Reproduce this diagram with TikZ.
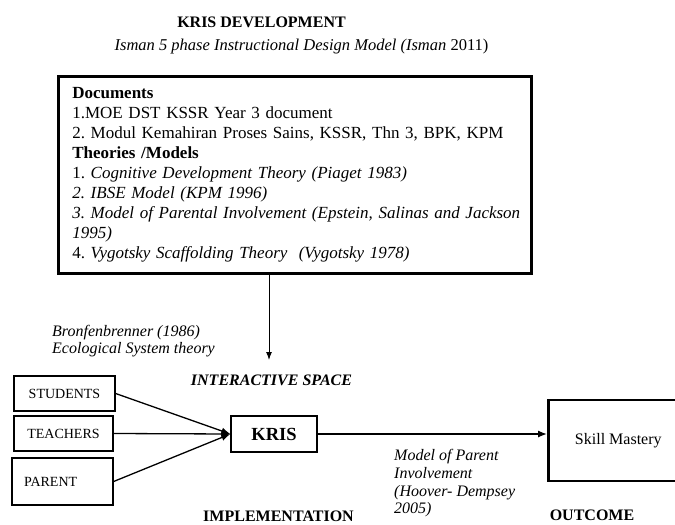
\documentclass[tikz,border=0pt]{standalone}
\usepackage{fontspec}
\setmainfont{Liberation Serif}
\usetikzlibrary{arrows.meta,positioning}
\frenchspacing

\tikzset{
	heavybox/.style={draw, line width=2.6pt, inner ysep=0pt},
	agentbox/.style={draw, line width=1.3pt, inner sep=0pt, minimum height=35pt, font=\fontsize{14}{16}\selectfont},
	feed/.style={line width=1.3pt, -{Latex[length=9pt,width=7pt]}},
	note/.style={inner sep=0pt, align=left, font=\fontsize{16}{17.7}\selectfont\itshape},
	stage/.style={inner sep=0pt, font=\fontsize{16}{18}\selectfont\bfseries}
}

\begin{document}
\begin{tikzpicture}[x=1pt, y=-1pt]
			%%%%% START %%%%%
			\useasboundingbox (0, 0) rectangle (675, 525);
			
			\node[stage] (devtitle) at (261.5, 22) {KRIS DEVELOPMENT};
			\node[inner sep=0pt, font=\fontsize{16.5}{18}\selectfont] (isman) at (301.5, 47) {\textit{Isman 5 phase Instructional Design Model (Isman} 2011)};
			
			\node[heavybox, anchor=north west, minimum width=473pt, minimum height=197pt, inner xsep=14pt, text width=445pt, align=left, font=\fontsize{17}{20}\selectfont] (docs) at (57, 75) {%
				\textbf{Documents}\\
				1.MOE DST KSSR Year 3 document\\
				2. Modul Kemahiran Proses Sains, KSSR, Thn 3, BPK, KPM\\
				\textbf{Theories /Models}\\
				1. \textit{Cognitive Development Theory (Piaget 1983)}\\
				\textit{2. IBSE Model (KPM 1996)}\\
				\mbox{\textit{3. Model of Parental Involvement (Epstein, Salinas and Jackson}}\\
				\textit{1995)}\\
				4. \textit{Vygotsky Scaffolding Theory\ \ (Vygotsky 1978)}};
			
			\coordinate (space) at (269, 360);
			\draw[line width=1pt, -{Latex[length=8pt,width=6pt]}] (space |- docs.south) -- (space);
			
			\node[note, anchor=west] (bronf) at (52, 341) {Bronfenbrenner (1986)\\Ecological System theory};
			\node[stage, font=\fontsize{16}{18}\selectfont\bfseries\itshape] (ispace) at (271.5, 380) {INTERACTIVE SPACE};
			
			\node[agentbox, minimum width=101pt] (stud) at (64.5, 393.5) {STUDENTS};
			\node[agentbox, minimum width=99pt] (teach) at (63.5, 433.5) {TEACHERS};
			\node[agentbox, minimum height=47pt, inner xsep=12pt, text width=77pt, align=left] (parent) at (62.5, 481.5) {PARENT};
			
			\node[agentbox, minimum width=86pt, minimum height=36pt, font=\fontsize{18.5}{20}\selectfont\bfseries] (kris) at (274, 434) {KRIS};
			
			\draw[feed] (stud.east) -- (kris.west);
			\draw[feed] (teach.east) -- (kris.west);
			\draw[feed] (parent.east) -- (kris.west);
			
			\node[heavybox, anchor=west, minimum width=140pt, minimum height=81pt, font=\fontsize{16}{18}\selectfont] (skill) at (547, 440.5) {Skill Mastery};
			\draw[feed] (kris.east) -- (kris.east -| skill.west);
			
			\node[note, anchor=west] (hoover) at (394, 483.5) {Model of Parent\\Involvement\\(Hoover- Dempsey\\2005)};
			
			\node[stage] (impl) at (278.5, 516) {IMPLEMENTATION};
			\node[stage] (outcome) at (592, 515) {OUTCOME};
			%%%%% END %%%%%
\end{tikzpicture}
\end{document}
